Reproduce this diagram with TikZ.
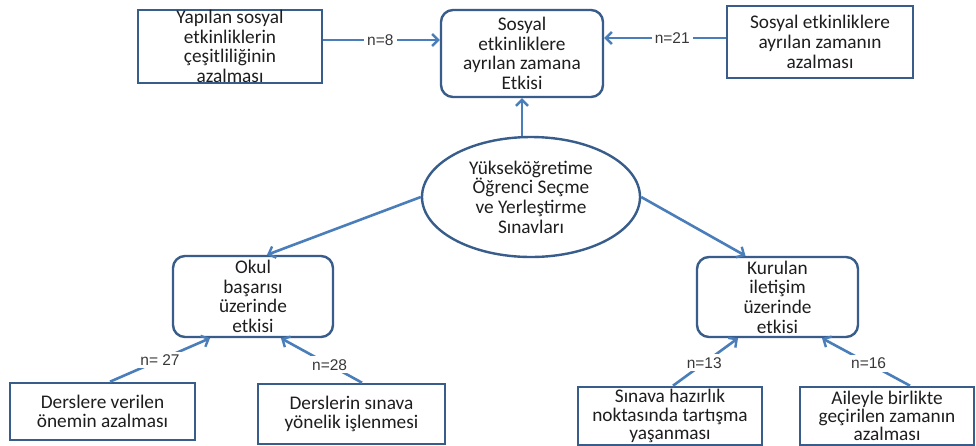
\documentclass[tikz,border=0pt]{standalone}
\usepackage{fontspec}
\setmainfont{Carlito}
\newfontfamily\numfont{Liberation Sans}
\usetikzlibrary{arrows.meta,shapes.geometric}
\definecolor{boxline}{HTML}{385D8A}
\definecolor{conn}{HTML}{4A7EBB}
\definecolor{ink}{HTML}{1E1E1E}
\definecolor{numink}{HTML}{383838}
\tikzset{
  txt/.style={font=\fontsize{19.3}{19.7}\selectfont, text=ink, align=center, inner sep=0pt},
  sharpbox/.style={txt, draw=boxline, line width=2.6pt},
  roundbox/.style={txt, draw=boxline, line width=2.4pt, rounded corners=12pt},
  hub/.style={txt, ellipse, draw=boxline, line width=2.4pt, minimum width=218pt, minimum height=120pt},
  arr/.style={draw=conn, line width=2.6pt, -{Straight Barb[length=6pt,width=12pt,line width=2.4pt]}},
  cnt/.style={font=\numfont\fontsize{15.5}{18}\selectfont, text=numink, fill=white, inner sep=3pt},
  tight/.style={font=\fontsize{19.3}{18.3}\selectfont}
}
\begin{document}
\begin{tikzpicture}[x=1pt,y=-1pt]
\useasboundingbox[fill=white] (0,0) rectangle (976,445);

% central exam node
\node[hub] (ysv) at (531,197) {Yükseköğretime\\Öğrenci Seçme\\ve Yerleştirme\\Sınavları};

% effect nodes
\node[roundbox, minimum width=162pt, minimum height=87pt] (sos) at (522,53.5) {Sosyal\\etkinliklere\\ayrılan zamana\\Etkisi};
\node[roundbox, minimum width=160pt, minimum height=81pt] (okul) at (253,296.5) {Okul\\başarısı\\üzerinde\\etkisi};
\node[roundbox, minimum width=161pt, minimum height=80pt] (ilet) at (777.5,297) {Kurulan\\iletişim\\üzerinde\\etkisi};

% factor nodes
\node[sharpbox, minimum width=184pt, minimum height=73pt] (cesit) at (230,46.5) {Yapılan sosyal\\etkinliklerin\\çeşitliliğinin\\azalması};
\node[sharpbox, minimum width=186pt, minimum height=72pt] (zaman) at (820,42) {Sosyal etkinliklere\\ayrılan zamanın\\azalması};
\node[sharpbox, minimum width=185pt, minimum height=57pt] (onem) at (102.5,411.5) {Derslere verilen\\önemin azalması};
\node[sharpbox, minimum width=187pt, minimum height=60pt] (yon) at (351.5,414) {Derslerin sınava\\yönelik işlenmesi};
\node[sharpbox, tight, minimum width=184pt, minimum height=58pt] (tart) at (670,416) {Sınava hazırlık\\noktasında tartışma\\yaşanması};
\node[sharpbox, tight, minimum width=174pt, minimum height=58pt] (aile) at (887,416) {Aileyle birlikte\\geçirilen zamanın\\azalması};

% connectors from the exam node
\draw[arr] (ysv.north -| sos.south) -- (sos.south);
\draw[arr] (ysv.west) -- ([xshift=14pt]okul.north);
\draw[arr] (ysv.east) -- ([xshift=-32pt]ilet.north);

% counted connectors
\draw[arr] (cesit.east |- 0,40) -- node[cnt, pos=0.49] (n8) {n=8} (sos.west |- 0,40);
\draw[arr] (zaman.west |- 0,38) -- node[cnt, pos=0.44] (n21) {n=21} (sos.east |- 0,38);
\draw[arr] ([xshift=7.5pt]onem.north) -- node[cnt, pos=0.5] (n27) {n= 27} ([xshift=-43pt]okul.south);
\draw[arr] ([xshift=10.5pt]yon.north) -- node[cnt, pos=0.4] (n28) {n=28} ([xshift=28pt]okul.south);
\draw[arr] ([xshift=3pt]tart.north) -- node[cnt, pos=0.48] (n13) {n=13} ([xshift=-39.5pt]ilet.south);
\draw[arr] ([xshift=23pt]aile.north) -- node[cnt, pos=0.47] (n16) {n=16} ([xshift=44.5pt]ilet.south);
\end{tikzpicture}
\end{document}
